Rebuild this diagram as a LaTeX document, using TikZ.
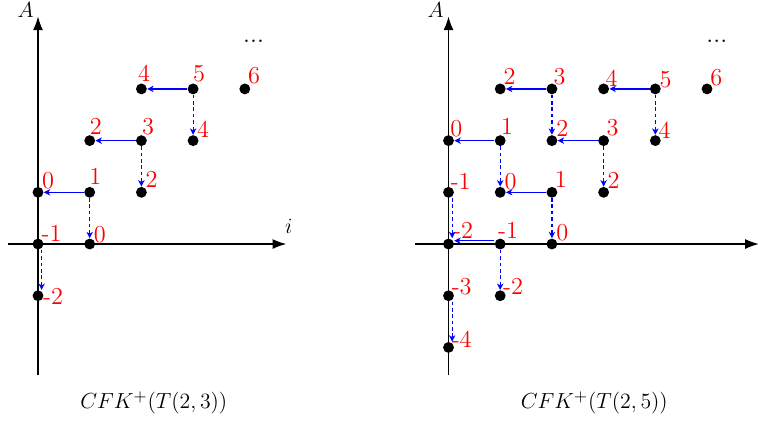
\documentclass[tikz,border=0pt]{standalone}
\usetikzlibrary{arrows.meta}
\newcommand\mkgen[5]{%
  \node[dot] (#1) at (#2) {};
  \node[lab] (#1l) at ([shift={(#4,#5)}]#1.center) {#3};
}
\begin{document}
\begin{tikzpicture}[
  dot/.style={circle, fill=black, inner sep=0pt, minimum size=0.21cm},
  lab/.style={text=red, inner sep=0pt, anchor=base west, font=\fontsize{13.4}{16}\selectfont},
  axis/.style={line width=0.6pt, -{Latex[length=7.5pt,width=5.5pt]}},
  horiz/.style={blue, line width=0.8pt, -{Stealth[length=3.5pt,width=3.5pt,inset=1pt]}},
  vert/.style={blue, line width=0.65pt, dash pattern=on 2pt off 1.5pt, -{Stealth[length=3.5pt,width=3.5pt,inset=1pt]}},
  axlab/.style={font=\fontsize{12}{14}\selectfont},
  dotstext/.style={font=\fontsize{14}{16}\selectfont, anchor=base, inner sep=0pt},
  captext/.style={font=\fontsize{13.1}{15}\selectfont, anchor=base},
]
\useasboundingbox (-0.735,-3.48) rectangle (13.926,4.72);

% ---------------- left: CFK+(T(2,3)) ----------------
\coordinate (Lyb) at (0,-2.53);
\coordinate (Lyt) at (0,4.40);
\coordinate (Lxl) at (-0.58,0);
\coordinate (Lxr) at (4.80,0);
\draw[axis] (Lyb) -- (Lyt);
\draw[axis] (Lxl) -- (Lxr);
\node[axlab] (LA) at (-0.24,4.53) {$A$};
\node[axlab] (Li) at (4.85,0.34) {$i$};
\node[dotstext] (Ldots) at (4.17,3.90) {...};

\mkgen{L0m}{0,-1}{-2}{0.093}{-0.174}
\mkgen{L00}{0,0}{-1}{0.062}{0.05}
\mkgen{L10}{1,0}{0}{0.072}{0.031}
\mkgen{L01}{0,1}{0}{0.072}{0.083}
\mkgen{L11}{1,1}{1}{-0.015}{0.155}
\mkgen{L21}{2,1}{2}{0.077}{0.097}
\mkgen{L12}{1,2}{2}{-0.006}{0.116}
\mkgen{L22}{2,2}{3}{0.006}{0.116}
\mkgen{L32}{3,2}{4}{0.072}{0.052}
\mkgen{L23}{2,3}{4}{-0.072}{0.135}
\mkgen{L33}{3,3}{5}{-0.006}{0.141}
\mkgen{L43}{4,3}{6}{0.058}{0.097}

\draw[horiz] (L11) -- (L01);
\draw[horiz] (L22) -- (L12);
\draw[horiz] (L33) -- (L23);
\draw[vert] (L11) -- (L10);
\draw[vert] (L22) -- (L21);
\draw[vert] (L33) -- (L32);
\draw[vert] ([xshift=0.07cm]L00.south) -- ([xshift=0.07cm]L0m.north);

\node[captext] (Lcap) at (2.24,-3.19) {$CFK^+(T(2,3))$};

% ---------------- right: CFK+(T(2,5)) ----------------
\begin{scope}[xshift=7.94cm]
\coordinate (Ryb) at (0,-2.53);
\coordinate (Ryt) at (0,4.40);
\coordinate (Rxl) at (-0.64,0);
\coordinate (Rxr) at (6.0,0);
\draw[axis] (Ryb) -- (Ryt);
\draw[axis] (Rxl) -- (Rxr);
\node[axlab] (RA) at (-0.25,4.53) {$A$};
\node[axlab] (Ri) at (6.06,0.34) {$i$};
\node[dotstext] (Rdots) at (5.19,3.90) {...};

\mkgen{R13}{1,3}{2}{0.058}{0.083}
\mkgen{R23}{2,3}{3}{0.025}{0.083}
\mkgen{R33}{3,3}{4}{0.033}{0.039}
\mkgen{R43}{4,3}{5}{0.077}{0.02}
\mkgen{R53}{5,3}{6}{0.058}{0.064}
\mkgen{R02}{0,2}{0}{0.027}{0.072}
\mkgen{R12}{1,2}{1}{0.01}{0.116}
\mkgen{R22}{2,2}{2}{0.077}{0.083}
\mkgen{R32}{3,2}{3}{0.052}{0.097}
\mkgen{R42}{4,2}{4}{0.058}{0.033}
\mkgen{R01}{0,1}{-1}{0.037}{0.052}
\mkgen{R11}{1,1}{0}{0.077}{0.052}
\mkgen{R21}{2,1}{1}{0.048}{0.091}
\mkgen{R31}{3,1}{2}{0.072}{0.072}
\mkgen{R00}{0,0}{-2}{0.081}{0.116}
\mkgen{R10}{1,0}{-1}{-0.048}{0.116}
\mkgen{R20}{2,0}{0}{0.077}{0.064}
\mkgen{R0m}{0,-1}{-3}{0.056}{0.02}
\mkgen{R1m}{1,-1}{-2}{0.048}{0.033}
\mkgen{R0mm}{0,-2}{-4}{0.056}{0}

\draw[horiz] (R23) -- (R13);
\draw[horiz] (R43) -- (R33);
\draw[horiz] (R12) -- (R02);
\draw[horiz] (R32) -- (R22);
\draw[horiz] (R21) -- (R11);
\draw[horiz] ([yshift=0.065cm]R10.west) -- ([yshift=0.065cm]R00.east);
\draw[vert] (R23) -- (R22);
\draw[vert] (R43) -- (R42);
\draw[vert] (R12) -- (R11);
\draw[vert] (R32) -- (R31);
\draw[vert] (R21) -- (R20);
\draw[vert] (R10) -- (R1m);
\draw[vert] ([xshift=0.07cm]R01.south) -- ([xshift=0.07cm]R00.north);
\draw[vert] ([xshift=0.07cm]R0m.south) -- ([xshift=0.07cm]R0mm.north);

\node[captext] (Rcap) at (2.82,-3.19) {$CFK^+(T(2,5))$};
\end{scope}
\end{tikzpicture}
\end{document}
